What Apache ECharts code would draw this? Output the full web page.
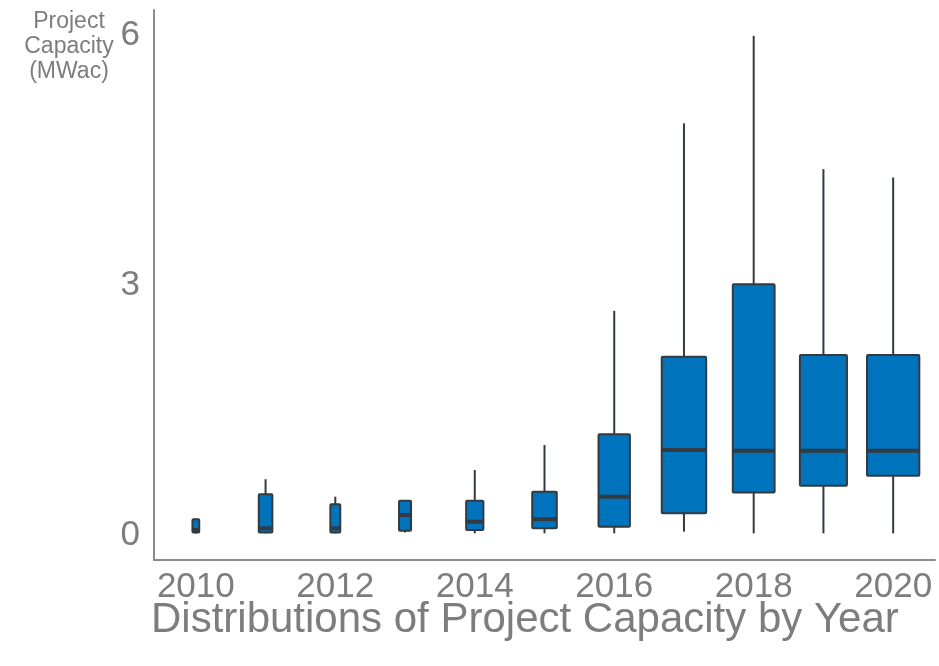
<!DOCTYPE html>
<html>
<head>
<meta charset="utf-8">
<script src="https://cdn.jsdelivr.net/npm/echarts@6/dist/echarts.min.js"></script>
<style>
html,body{margin:0;padding:0;background:#fff;}
#chart{width:939px;height:666px;}
</style>
</head>
<body>
<div id="chart"></div>
<script>
// ---- data ----
var years = [2010, 2011, 2012, 2013, 2014, 2015, 2016, 2017, 2018, 2019, 2020];
var whiskerLow = [0.02, 0.02, 0.02, 0.03, 0.02, 0.02, 0.02, 0.04, 0.02, 0.02, 0.02];
var q1 = [0.03, 0.03, 0.03, 0.05, 0.06, 0.08, 0.10, 0.26, 0.51, 0.59, 0.71];
var median = [0.06, 0.08, 0.08, 0.24, 0.16, 0.19, 0.46, 1.02, 1.01, 1.01, 1.01];
var q3 = [0.19, 0.49, 0.37, 0.41, 0.41, 0.52, 1.21, 2.14, 3.01, 2.16, 2.16];
var whiskerHigh = [0.19, 0.67, 0.46, 0.41, 0.78, 1.08, 2.69, 4.94, 5.99, 4.39, 4.29];
// relative box width (variable-width boxes, relative to the widest year)
var relWidth = [0.13, 0.26, 0.19, 0.23, 0.33, 0.47, 0.60, 0.85, 0.80, 0.90, 1.00];
var xTickLabels = [2010, 2012, 2014, 2016, 2018, 2020];
var yTickLabels = [0, 3, 6];
var yAxisTitle = ['Project', 'Capacity', '(MWac)'];
var chartTitle = 'Distributions of Project Capacity by Year';

var data = years.map(function (y, i) {
  return [y, whiskerLow[i], q1[i], median[i], q3[i], whiskerHigh[i], relWidth[i]];
});

var FONT = '"Liberation Sans", Arial, sans-serif';
var TEXT = '#7d7d7d';
var AXIS = '#8a8a8a';
var FILL = '#0073bd';
var EDGE = '#333a40';
var MAXW = 0.75; // widest box width in years

var chart = echarts.init(document.getElementById('chart'), null, {renderer: 'canvas'});

function renderItem(params, api) {
  var x = api.value(0);
  var lo = api.coord([x, api.value(1)]);
  var b1 = api.coord([x, api.value(2)]);
  var md = api.coord([x, api.value(3)]);
  var b3 = api.coord([x, api.value(4)]);
  var hi = api.coord([x, api.value(5)]);
  var w = api.size([MAXW * api.value(6), 0])[0];
  var cx = lo[0];
  return {
    type: 'group',
    children: [
      {type: 'line', shape: {x1: cx, y1: hi[1], x2: cx, y2: b3[1]},
       style: {stroke: EDGE, lineWidth: 2}},
      {type: 'line', shape: {x1: cx, y1: b1[1], x2: cx, y2: lo[1]},
       style: {stroke: EDGE, lineWidth: 2}},
      {type: 'rect', shape: {x: cx - w / 2, y: b3[1], width: w, height: b1[1] - b3[1], r: 1},
       style: {fill: FILL, stroke: EDGE, lineWidth: 2}},
      {type: 'line', shape: {x1: cx - w / 2, y1: md[1], x2: cx + w / 2, y2: md[1]},
       style: {stroke: EDGE, lineWidth: 4}}
    ]
  };
}

var option = {
  backgroundColor: '#ffffff',
  animation: false,
  title: {
    text: chartTitle,
    left: 146,
    top: 594,
    textStyle: {fontFamily: FONT, fontSize: 42, fontWeight: 'normal', color: TEXT}
  },
  graphic: [{
    type: 'text',
    x: 69,
    y: 9,
    style: {
      text: yAxisTitle.join('\n'),
      fontFamily: FONT,
      fontSize: 23,
      lineHeight: 25,
      fill: TEXT,
      align: 'center'
    }
  }],
  grid: {left: 154, right: 4, top: 10, bottom: 106, containLabel: false},
  xAxis: {
    type: 'value',
    min: 2009.4,
    max: 2020.6,
    axisLine: {show: true, onZero: false, lineStyle: {color: AXIS, width: 2}},
    axisTick: {show: false},
    splitLine: {show: false},
    axisLabel: {
      customValues: xTickLabels,
      fontFamily: FONT, fontSize: 35, color: TEXT, margin: 10,
      formatter: function (v) { return String(v); }
    }
  },
  yAxis: {
    type: 'value',
    min: -0.3,
    max: 6.3,
    axisLine: {show: true, onZero: false, lineStyle: {color: AXIS, width: 2}},
    axisTick: {show: false},
    splitLine: {show: false},
    axisLabel: {
      customValues: yTickLabels,
      fontFamily: FONT, fontSize: 35, color: TEXT, margin: 14,
      formatter: function (v) { return String(v); }
    }
  },
  series: [{
    type: 'custom',
    renderItem: renderItem,
    data: data,
    encode: {x: 0, y: [1, 2, 3, 4, 5]}
  }]
};
chart.setOption(option);
</script>
</body>
</html>
